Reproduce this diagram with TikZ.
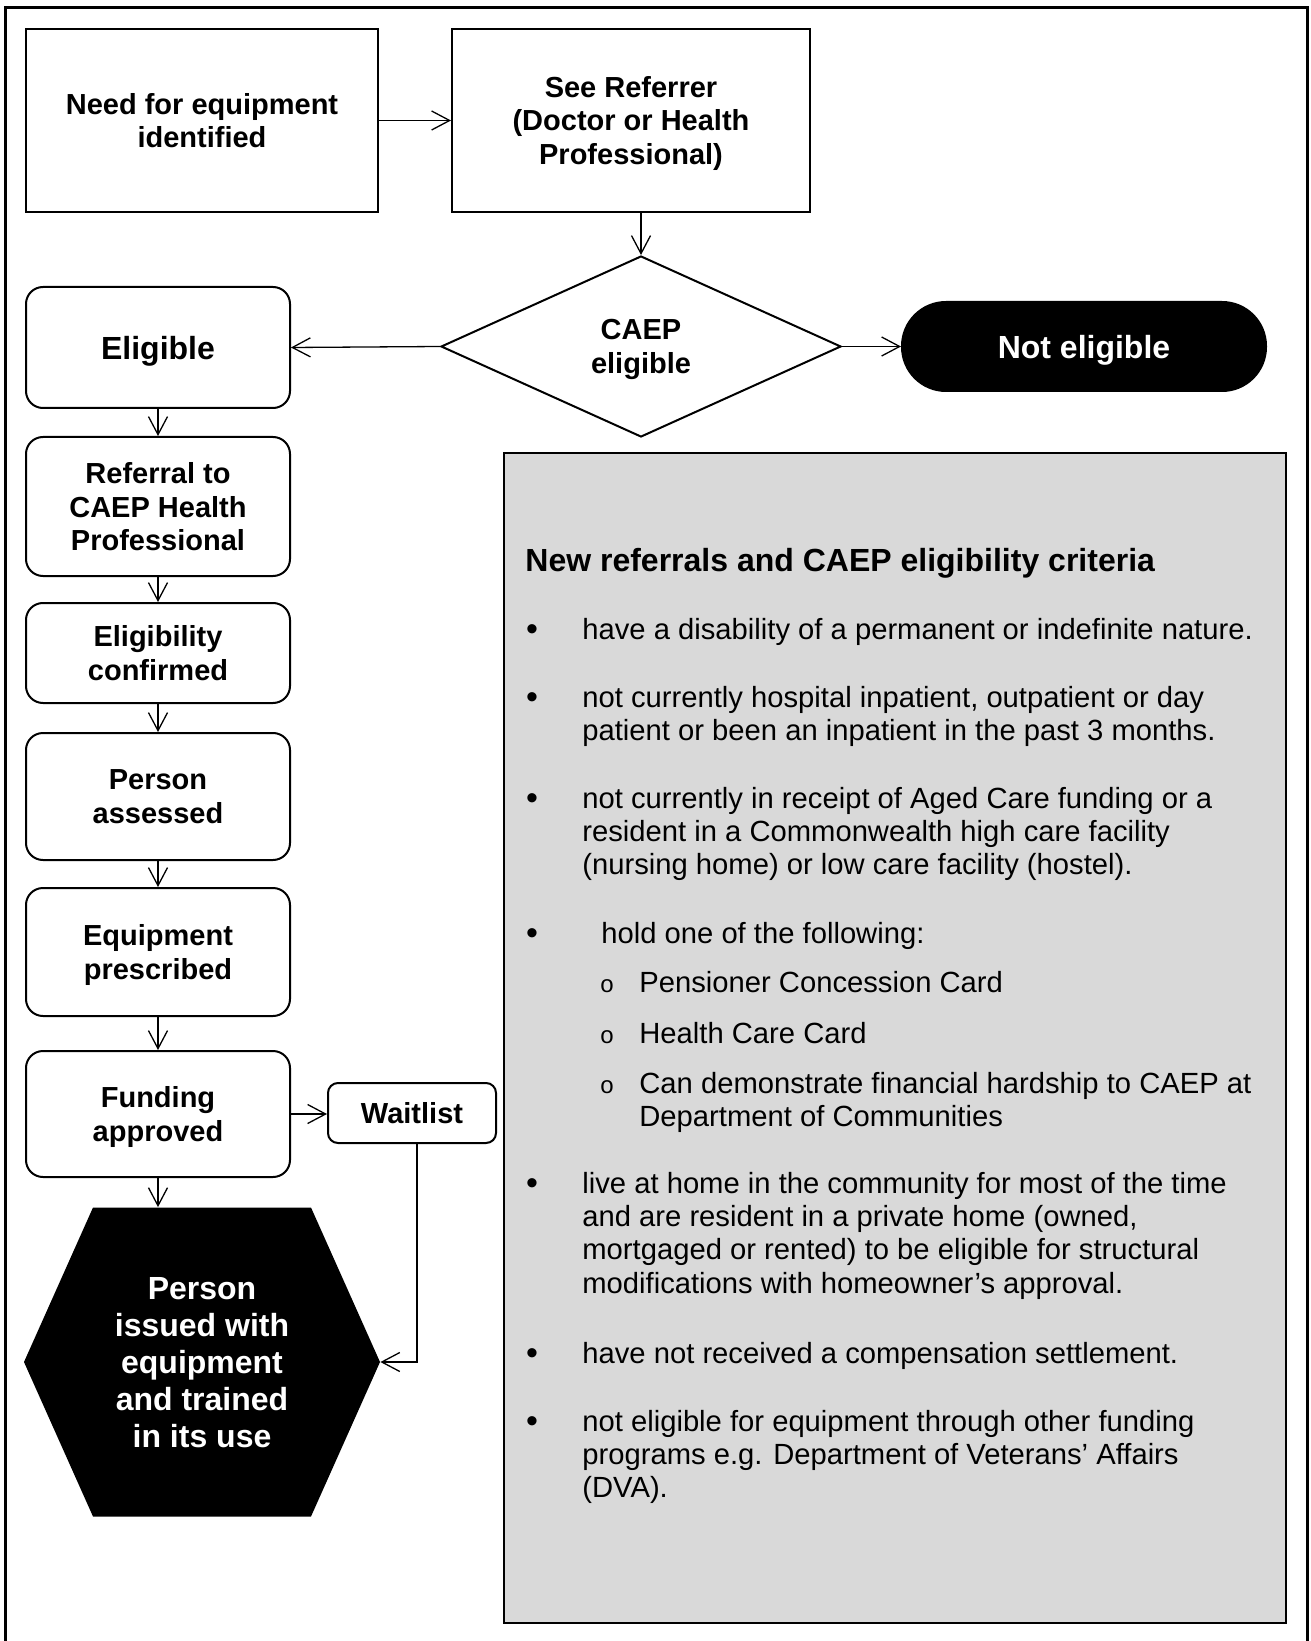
\documentclass[tikz,border=0pt]{standalone}
\usepackage{fontspec}
\setmainfont{Liberation Sans}
\newfontfamily\ringfont{Liberation Mono}
\usetikzlibrary{shapes.geometric,arrows.meta}
\definecolor{boxgray}{HTML}{D9D9D9}

\begin{document}
\begin{tikzpicture}[x=0.5pt, y=-0.5pt,
    flow/.style={draw, line width=1pt, rectangle, inner sep=0pt, align=center, text depth=0pt,
      font=\bfseries\fontsize{14.5}{16.7}\selectfont},
    stage/.style={flow, rounded corners=8.5pt, minimum width=132pt},
    big/.style={font=\bfseries\fontsize{16}{18.5}\selectfont},
    link/.style={line width=0.65pt, -{Straight Barb[length=9pt,width=9.5pt]}},
    item/.style={anchor=base west, inner sep=0pt, align=left,
      font=\fontsize{14.6}{16.7}\selectfont},
    dot/.style={anchor=base, inner sep=0pt, font=\fontsize{17}{17}\selectfont},
    hexa/.style={rectangle, inner sep=0pt, align=center, text=white, text depth=0pt,
      minimum width=178pt, minimum height=154.5pt,
      path picture={\fill[black] (path picture bounding box.west)
        -- ([xshift=34.5pt]path picture bounding box.north west)
        -- ([xshift=-34.5pt]path picture bounding box.north east)
        -- (path picture bounding box.east)
        -- ([xshift=-34.5pt]path picture bounding box.south east)
        -- ([xshift=34.5pt]path picture bounding box.south west) -- cycle;}}]
  \useasboundingbox (0,0) rectangle (1310,1641);
  \draw[line width=1.5pt] (5.5,1641) -- (5.5,7.5) -- (1307.5,7.5) -- (1307.5,1641);

  \node[flow, minimum width=176pt, minimum height=91.5pt] (need) at (202,120.5)
    {Need for equipment\\identified};
  \node[flow, minimum width=179pt, minimum height=91.5pt] (referrer) at (631,120.5)
    {See Referrer\\(Doctor or Health\\Professional)};
  \node[flow, diamond, aspect=2.2, minimum width=200pt, minimum height=90.5pt] (caep) at (641,346.5)
    {CAEP\\eligible};
  \node[flow, big, fill=black, text=white, rounded corners=22pt,
    minimum width=182pt, minimum height=44.5pt] (noelig) at (1084,346.5) {Not eligible};

  \node[stage, big, minimum height=60.5pt] (elig) at (158,347.5) {Eligible};
  \node[stage, minimum height=69.5pt] (referral) at (158,506.5) {Referral to\\CAEP Health\\Professional};
  \node[stage, minimum height=50pt] (confirmed) at (158,653) {Eligibility\\confirmed};
  \node[stage, minimum height=63.5pt] (assessed) at (158,796.5) {Person\\assessed};
  \node[stage, minimum height=64pt] (prescribed) at (158,952) {Equipment\\prescribed};
  \node[stage, minimum height=63pt] (funding) at (158,1114) {Funding\\approved};
  \node[flow, rounded corners=5pt, minimum width=84pt, minimum height=30pt] (waitlist) at (412,1113) {Waitlist};
  \node[hexa, big] (issued) at (202,1362) {Person\\issued with\\equipment\\and trained\\in its use};

  \draw[link] (need) -- (referrer);
  \draw[link] (referrer.south -| caep.north) -- (caep.north);
  \draw[link] (caep.west) -- (elig.east);
  \draw[link] (caep.east) -- (noelig.west);
  \draw[link] (elig) -- (referral);
  \draw[link] (referral) -- (confirmed);
  \draw[link] (confirmed) -- (assessed);
  \draw[link] (assessed) -- (prescribed);
  \draw[link] (prescribed) -- (funding);
  \draw[link] (funding.east) -- (funding.east -| waitlist.west);
  \draw[link] (funding.south) -- (funding.south |- issued.north);
  \draw[link] ([xshift=2.5pt]waitlist.south) |- (issued.east);

  \node[draw, line width=0.8pt, fill=boxgray, minimum width=391pt, minimum height=585pt] (criteria) at (895,1038) {};
  \node[big, anchor=base west, inner sep=0pt] (title) at (525,571.5) {New referrals and CAEP eligibility criteria};
  \foreach \y [count=\i] in {640,708,809,944,1194,1364,1432}
    \node[dot] (dot\i) at (532,\y) {\textbullet};
  \foreach \y [count=\i] in {992,1043,1093}
    \node[dot, font=\ringfont\fontsize{12}{14}\selectfont] (ring\i) at (607,\y) {o};
  \node[item] (crit1) at (582,639) {have a disability of a permanent or indefinite nature.};
  \node[item] (crit2) at (582,740.4) {not currently hospital inpatient, outpatient or day\\patient or been an inpatient in the past 3 months.};
  \node[item] (crit3) at (582,874.8) {not currently in receipt of Aged Care funding or a\\resident in a Commonwealth high care facility\\(nursing home) or low care facility (hostel).};
  \node[item] (crit4) at (601,943) {hold one of the following:};
  \node[item] (card1) at (639,992) {Pensioner Concession Card};
  \node[item] (card2) at (639,1043) {Health Care Card};
  \node[item] (card3) at (639,1126.4) {Can demonstrate financial hardship to CAEP at\\Department of Communities};
  \node[item] (crit5) at (582,1293.2) {live at home in the community for most of the time\\and are resident in a private home (owned,\\mortgaged or rented) to be eligible for structural\\modifications with homeowner’s approval.};
  \node[item] (crit6) at (582,1363) {have not received a compensation settlement.};
  \node[item] (crit7) at (582,1497.8) {not eligible for equipment through other funding\\programs e.g. Department of Veterans’ Affairs\\(DVA).};
\end{tikzpicture}
\end{document}
